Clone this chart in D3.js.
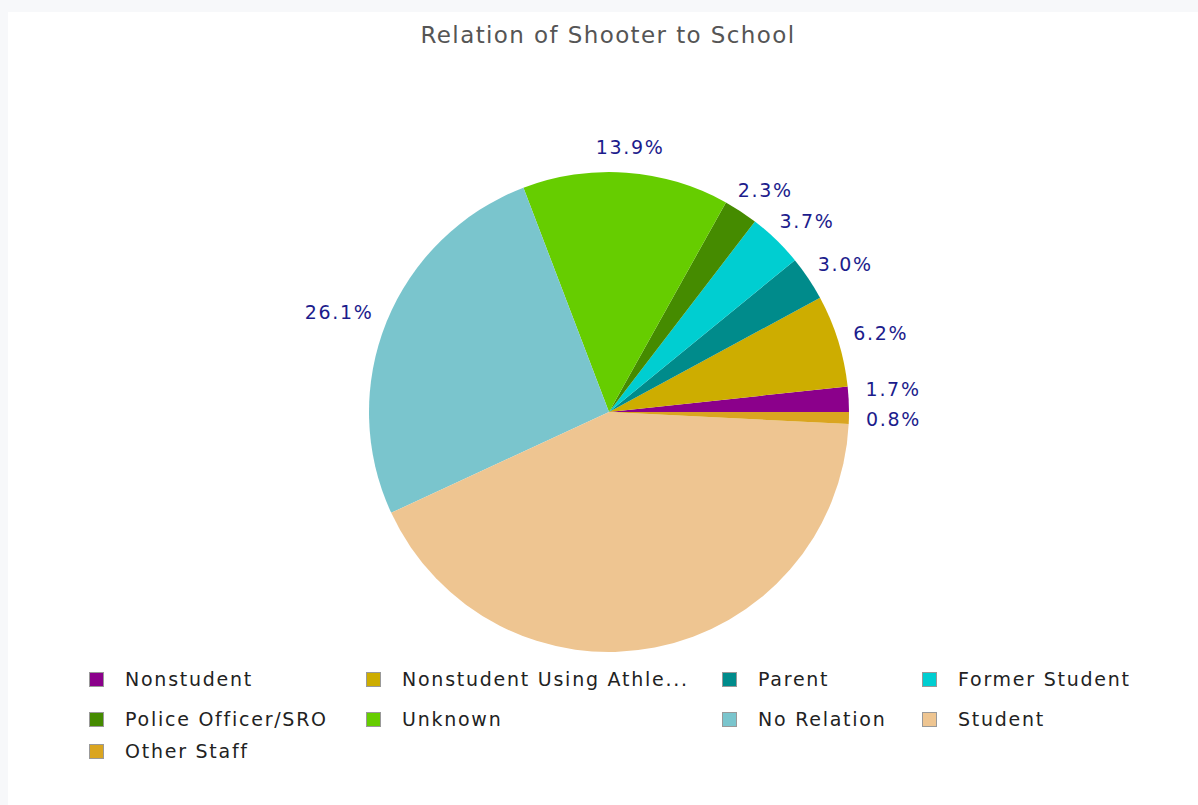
<!DOCTYPE html>
<html>
<head>
<meta charset="utf-8">
<script src="https://cdn.jsdelivr.net/npm/d3@7"></script>
<style>
  body { margin: 0; background: #f7f8fa; }
  #chart { position: absolute; left: 8px; top: 12px; }
</style>
</head>
<body>
<div id="chart"></div>
<script>

// data
var categories = ["Nonstudent", "Nonstudent Using Athletic Facilities", "Parent", "Former Student",
                  "Police Officer/SRO", "Unknown", "No Relation", "Student", "Other Staff"];
var shares = [1.7, 6.2, 3.0, 3.7, 2.3, 13.9, 26.1, 42.3, 0.8];
var showLabel = [true, true, true, true, true, true, true, false, true];
var colors = ["#8b008b", "#cdad00", "#008b8b", "#00ced1", "#458b00", "#66cd00", "#7ac5cd", "#eec591", "#daa520"];

var W = 1190, H = 793;
var cx = 601, cy = 400, r = 240;
var font = "'DejaVu Sans', sans-serif";

var svg = d3.select("#chart").append("svg")
    .attr("width", W)
    .attr("height", H)
    .style("background", "#fff");

// title
svg.append("text")
    .attr("x", 600).attr("y", 23)
    .attr("text-anchor", "middle")
    .attr("dominant-baseline", "central")
    .style("font-family", font)
    .style("font-size", "23px")
    .style("letter-spacing", "1.4px")
    .attr("fill", "#555")
    .text("Relation of Shooter to School");

var data = categories.map(function(c, i) {
  return {name: c, value: shares[i], color: colors[i], label: showLabel[i]};
});

// pie goes counterclockwise starting at 3 o'clock
var pie = d3.pie()
    .sort(null)
    .value(function(d) { return d.value; })
    .startAngle(Math.PI / 2)
    .endAngle(Math.PI / 2 - 2 * Math.PI);

var arcs = pie(data);
var arc = d3.arc().innerRadius(0).outerRadius(r);

var g = svg.append("g").attr("transform", "translate(" + cx + "," + cy + ")");
g.selectAll("path")
  .data(arcs)
  .enter()
  .append("path")
    .attr("d", arc)
    .attr("fill", function(d) { return d.data.color; });

// labels
var lblR = 257, lblH = 18;
var labels = arcs.filter(function(d) { return d.data.label; }).map(function(d) {
  var a = (d.startAngle + d.endAngle) / 2;   // d3 angle: 0 at 12 o'clock, clockwise
  var ux = Math.sin(a), uy = -Math.cos(a);
  return {d: d, ux: ux, uy: uy, px: ux * lblR, py: uy * lblR,
          text: d.data.value.toFixed(1) + "%"};
});

var lt = g.selectAll(".lbl")
  .data(labels)
  .enter()
  .append("text")
    .attr("class", "lbl")
    .style("font-family", font)
    .style("font-size", "19px")
    .style("letter-spacing", "1.7px")
    .attr("fill", "#1c1c8c")
    .attr("dominant-baseline", "central")
    .text(function(d) { return d.text; });

lt.each(function(d) {
  var w = this.getComputedTextLength();
  d.x = d.px + (d.ux - 1) / 2 * w;
  d.y = d.py + d.uy / 2 * lblH;
});

// push overlapping labels on the right side upward
var right = labels.filter(function(d) { return d.ux > 0; })
  .sort(function(a, b) { return b.y - a.y; });
for (var i = 1; i < right.length; i++) {
  if (right[i - 1].y - right[i].y < 30) right[i].y = right[i - 1].y - 30;
}

lt.attr("x", function(d) { return d.x; })
  .attr("y", function(d) { return d.y; });

// legend
var colX = [81, 358, 714, 914];
var rowY = [667, 707, 739];
var maxLen = 22;
var leg = svg.selectAll(".leg")
  .data(data)
  .enter()
  .append("g")
    .attr("class", "leg")
    .attr("transform", function(d, i) {
      return "translate(" + colX[i % 4] + "," + rowY[Math.floor(i / 4)] + ")";
    });

leg.append("rect")
    .attr("x", 0.5).attr("y", -6.5)
    .attr("width", 14).attr("height", 14)
    .attr("fill", function(d) { return d.color; })
    .attr("stroke", "#999")
    .attr("stroke-width", 1);

leg.append("text")
    .attr("x", 36).attr("y", 0)
    .attr("dominant-baseline", "central")
    .style("font-family", font)
    .style("font-size", "19px")
    .style("letter-spacing", "1.75px")
    .attr("fill", "#222")
    .text(function(d) {
      return d.name.length > maxLen ? d.name.slice(0, maxLen) + "..." : d.name;
    });

</script>
</body>
</html>
